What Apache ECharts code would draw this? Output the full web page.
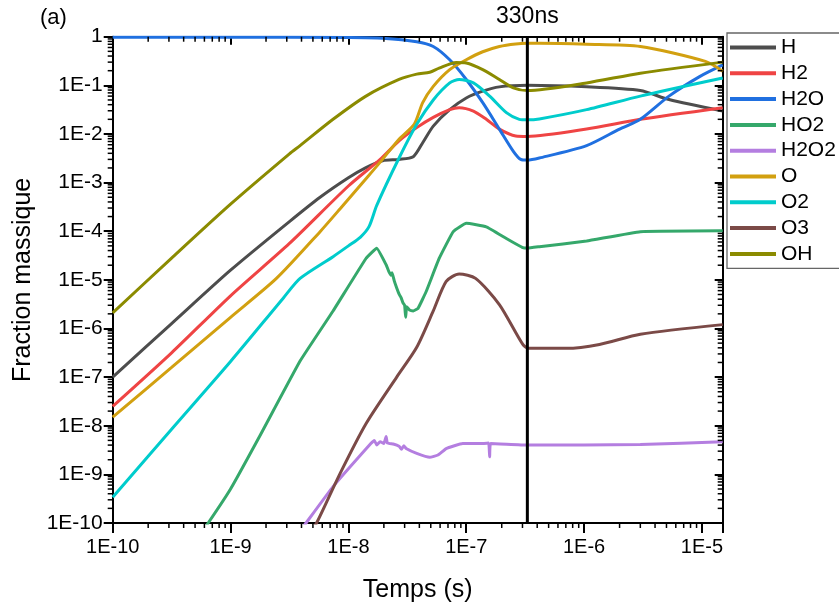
<!DOCTYPE html>
<html><head><meta charset="utf-8">
<script src="https://cdn.jsdelivr.net/npm/echarts@6/dist/echarts.min.js"></script>
<style>html,body{margin:0;padding:0;background:#fff}#c{width:839px;height:608px}</style>
</head><body><div id="c"></div>
<script>
const species = ['H','H2','H2O','HO2','H2O2','O','O2','O3','OH'];
const colors = ['#4d4d4d','#ef4444','#2070e0','#35a86b','#b47ee0','#d2a010','#00cccc','#7b4a47','#8b8b00'];
const xTickLabels = {'-10':'1E-10','-9':'1E-9','-8':'1E-8','-7':'1E-7','-6':'1E-6','-5':'1E-5'};
const yTickLabels = {'-10':'1E-10','-9':'1E-9','-8':'1E-8','-7':'1E-7','-6':'1E-6','-5':'1E-5','-4':'1E-4','-3':'1E-3','-2':'1E-2','-1':'1E-1','0':'1'};
const xMin = 1e-10, xMax = 1.5e-5, yMin = 1e-10, yMax = 1;
const markTime = 3.3e-7;
const markLabel = '330ns';

const H = [[1e-10,1e-7],[3.16e-10,1.26e-6],[1e-9,1.58e-5],[3.16e-9,1.58e-4],[5.75e-9,5.0e-4],[1e-8,1.26e-3],[1.41e-8,2.04e-3],[1.95e-8,2.82e-3],[2.69e-8,3.0e-3],[3.55e-8,3.4e-3],[4.27e-8,6.6e-3],[5.25e-8,1.45e-2],[7.24e-8,3.16e-2],[1e-7,5.5e-2],[1.38e-7,7.6e-2],[1.91e-7,9.3e-2],[3.3e-7,1.0e-1],[1.05e-6,9.3e-2],[3e-6,7.8e-2],[5.25e-6,5.1e-2],[1.5e-5,2.95e-2]];
const H2 = [[1e-10,2.5e-8],[3.16e-10,3.16e-7],[1e-9,4.7e-6],[3.16e-9,5.6e-5],[1e-8,8.5e-4],[1.86e-8,3.0e-3],[2.69e-8,7.2e-3],[3.8e-8,1.35e-2],[5.25e-8,2.19e-2],[7.24e-8,3.16e-2],[8.71e-8,3.47e-2],[1.15e-7,2.95e-2],[1.48e-7,2.0e-2],[1.91e-7,1.26e-2],[2.63e-7,9.1e-3],[3.3e-7,8.9e-3],[1.05e-6,1.26e-2],[3e-6,2.0e-2],[1.5e-5,3.47e-2]];
const H2O = [[1e-10,0.98],[1e-9,0.98],[1e-8,0.96],[1.95e-8,0.93],[3.8e-8,0.79],[5.25e-8,0.63],[7.24e-8,0.335],[1e-7,0.132],[1.38e-7,4.4e-2],[1.91e-7,1.26e-2],[2.51e-7,4.4e-3],[2.9e-7,3.0e-3],[3.3e-7,2.9e-3],[4.17e-7,3.2e-3],[1.05e-6,5.75e-3],[2e-6,1.26e-2],[3e-6,2.0e-2],[5.25e-6,6.0e-2],[9.55e-6,0.151],[1.5e-5,0.263]];
const HO2 = [[5.6e-10,6.3e-11],[6.46e-10,1e-10],[1e-9,5.0e-10],[1.78e-9,6.3e-9],[3.89e-9,2.14e-7],[7.41e-9,2.29e-6],[1.41e-8,2.75e-5],[1.74e-8,4.47e-5],[2.09e-8,2.04e-5],[2.2e-8,1.5e-5],[2.3e-8,1.25e-5],[2.35e-8,1.4e-5],[2.45e-8,9.5e-6],[2.57e-8,6.8e-6],[2.7e-8,5.0e-6],[2.8e-8,4.3e-6],[2.9e-8,3.4e-6],[3.0e-8,3.0e-6],[3.06e-8,1.7e-6],[3.12e-8,2.8e-6],[3.3e-8,2.4e-6],[3.55e-8,2.3e-6],[3.9e-8,2.6e-6],[4.57e-8,5.75e-6],[5.89e-8,2.75e-5],[7.76e-8,9.8e-5],[1e-7,1.45e-4],[1.48e-7,1.23e-4],[2.19e-7,7.1e-5],[3.02e-7,4.6e-5],[3.3e-7,4.5e-5],[4.17e-7,4.8e-5],[1.05e-6,6.3e-5],[3e-6,9.8e-5],[1.5e-5,1.02e-4]];
const H2O2 = [[3.8e-9,6.3e-11],[4.37e-9,1e-10],[7.41e-9,5.6e-10],[1.55e-8,4.3e-9],[1.66e-8,5.0e-9],[1.74e-8,4.0e-9],[1.86e-8,4.7e-9],[2.0e-8,4.3e-9],[2.09e-8,6.0e-9],[2.14e-8,4.4e-9],[2.4e-8,4.2e-9],[2.69e-8,3.8e-9],[2.82e-8,3.3e-9],[2.95e-8,3.9e-9],[3.09e-8,3.4e-9],[3.8e-8,2.7e-9],[4.9e-8,2.24e-9],[5.75e-8,2.5e-9],[6.76e-8,3.4e-9],[9.33e-8,4.3e-9],[1.38e-7,4.3e-9],[1.55e-7,4.4e-9],[1.58e-7,2.3e-9],[1.61e-7,4.3e-9],[3.3e-7,4.0e-9],[3e-6,4.1e-9],[1.5e-5,4.7e-9]];
const O = [[1e-10,1.5e-8],[3.16e-10,1.58e-7],[1e-9,1.7e-6],[2.45e-9,1.07e-5],[5.75e-9,9.8e-5],[8.51e-9,2.9e-4],[1.41e-8,1.2e-3],[1.9e-8,2.8e-3],[2.69e-8,7.8e-3],[3.63e-8,1.6e-2],[4.27e-8,4.4e-2],[5.25e-8,9.5e-2],[7.24e-8,0.21],[1e-7,0.335],[1.38e-7,0.49],[1.91e-7,0.63],[2.63e-7,0.71],[3.3e-7,0.73],[4.17e-7,0.73],[1.05e-6,0.70],[3e-6,0.63],[1.07e-5,0.31],[1.5e-5,0.195]];
const O2 = [[1e-10,3.4e-10],[3.16e-10,8.5e-9],[1e-9,2.1e-7],[2.82e-9,4.3e-6],[3.89e-9,1.07e-5],[7.41e-9,3.0e-5],[1e-8,5.0e-5],[1.26e-8,7.5e-5],[1.5e-8,1.26e-4],[1.74e-8,3.4e-4],[2.69e-8,3.2e-3],[3.8e-8,1.58e-2],[5.25e-8,5.0e-2],[7.24e-8,0.112],[8.71e-8,0.132],[1.15e-7,0.112],[1.58e-7,6.0e-2],[2.19e-7,2.75e-2],[2.82e-7,2.0e-2],[3.3e-7,1.95e-2],[4.17e-7,2.04e-2],[1.05e-6,3.16e-2],[3e-6,6.0e-2],[1.5e-5,0.141]];
const O3 = [[4.68e-9,6.3e-11],[5.37e-9,1e-10],[8.51e-9,1.05e-9],[1.41e-8,1.1e-8],[2.57e-8,1e-7],[3.8e-8,4.1e-7],[5.25e-8,2.29e-6],[6.76e-8,9.3e-6],[8.71e-8,1.32e-5],[1.2e-7,1.07e-5],[1.91e-7,3.1e-6],[3.02e-7,4.7e-7],[3.39e-7,3.9e-7],[7.08e-7,3.9e-7],[1.35e-6,4.7e-7],[3e-6,7.6e-7],[1.5e-5,1.2e-6]];
const OH = [[1e-10,2.1e-6],[3.16e-10,2.8e-5],[1e-9,3.6e-4],[3.16e-9,3.9e-3],[3.89e-9,5.75e-3],[7.41e-9,2.0e-2],[1.41e-8,6.0e-2],[2.69e-8,0.132],[3.8e-8,0.17],[4.9e-8,0.186],[5.89e-8,0.226],[8.22e-8,0.295],[1e-7,0.288],[1.38e-7,0.21],[1.91e-7,0.132],[2.51e-7,8.9e-2],[3.3e-7,7.8e-2],[1.05e-6,0.112],[3e-6,0.178],[1.5e-5,0.30]];
const seriesData = [H,H2,H2O,HO2,H2O2,O,O2,O3,OH];
const smoothness = [0.25,0.25,0.25,0.1,0.1,0.25,0.25,0.25,0.25];

const FONT = "Arial, 'Liberation Sans', sans-serif";
function fmt(map){ return function(v){ const e = Math.round(Math.log10(v)); if (Math.abs(v/Math.pow(10,e)-1) > 1e-6) return ''; return map[String(e)] || ''; }; }

const mant = [2,3,4,5,6,7,8,9];
const xMinor = [], yMinor = [];
for (let e=-10;e<=-5;e++) mant.forEach(m=>{const v=m*Math.pow(10,e); if(v<xMax) xMinor.push([v,yMin]);});
for (let e=-10;e<=-1;e++) mant.forEach(m=>{yMinor.push([xMin,m*Math.pow(10,e)]);});

const chart = echarts.init(document.getElementById('c'), null, {renderer:'canvas'});
const series = species.map((name,i)=>({
  name, type:'line', data: seriesData[i], showSymbol:false, symbol:'none', smooth:smoothness[i],
  lineStyle:{width:3, color:colors[i]}, itemStyle:{color:colors[i]}, clip:true, z: 3+i
}));
series.push({
  name:'marker', type:'line', data:[[markTime,yMin],[markTime,yMax]], showSymbol:false, symbol:'none',
  lineStyle:{color:'#000', width:3}, clip:true, z:15, silent:true
});
series.push({
  name:'markerLabel', type:'scatter', data:[[markTime,yMax]], symbolSize:0, clip:false, silent:true, z:16,
  itemStyle:{color:'#000', opacity:1},
  label:{show:true, position:'top', distance:9, formatter:markLabel, fontSize:23, color:'#000', opacity:1, fontFamily:FONT}
});
series.push({
  type:'custom', coordinateSystem:'cartesian2d', data:xMinor, silent:true, clip:false, z:20,
  renderItem:function(p, api){
    const v = api.value(0); const b = api.coord([v,yMin]); const t = api.coord([v,yMax]);
    return {type:'group', children:[
      {type:'line', shape:{x1:b[0],y1:b[1],x2:b[0],y2:b[1]+5}, style:{stroke:'#000', lineWidth:1.5}},
      {type:'line', shape:{x1:t[0],y1:t[1],x2:t[0],y2:t[1]+5}, style:{stroke:'#000', lineWidth:1.5}}
    ]};
  }
});
series.push({
  type:'custom', coordinateSystem:'cartesian2d', data:yMinor, silent:true, clip:false, z:20,
  renderItem:function(p, api){
    const v = api.value(1); const l = api.coord([xMin,v]); const r = api.coord([xMax,v]);
    return {type:'group', children:[
      {type:'line', shape:{x1:l[0],y1:l[1],x2:l[0]-5,y2:l[1]}, style:{stroke:'#000', lineWidth:1.5}},
      {type:'line', shape:{x1:r[0],y1:r[1],x2:r[0]-5,y2:r[1]}, style:{stroke:'#000', lineWidth:1.5}}
    ]};
  }
});

const axisLine = {show:true, onZero:false, lineStyle:{color:'#000', width:2}};
chart.setOption({
  animation:false,
  backgroundColor:'#fff',
  textStyle:{fontFamily:FONT},
  grid:{left:112.7, right:116.3, top:36.7, bottom:81.3, containLabel:false},
  legend:{
    data:species, orient:'vertical', left:727, top:33, padding:[4,14,4,3],
    itemGap:4.8, itemWidth:46, itemHeight:4, icon:'rect',
    textStyle:{fontSize:21, color:'#000', fontFamily:FONT},
    borderColor:'#666', borderWidth:1.3, backgroundColor:'#fff'
  },
  graphic:[{type:'text', left:40, top:7, style:{text:'(a)', fontSize:22, fill:'#000', fontFamily:FONT}}],
  xAxis:[
    {type:'log', logBase:10, min:xMin, max:xMax, interval:1, position:'bottom',
     axisLine, axisTick:{show:true, inside:false, length:10, lineStyle:{width:2,color:'#000'}},
     axisLabel:{formatter:fmt(xTickLabels), fontSize:20, color:'#000', margin:14, interval:0, fontFamily:FONT},
     splitLine:{show:false}, minorTick:{show:false},
     name:'Temps (s)', nameLocation:'middle', nameGap:55, nameTextStyle:{fontSize:25, color:'#000', fontFamily:FONT}},
    {type:'log', logBase:10, min:xMin, max:xMax, interval:1, position:'top',
     axisLine, axisTick:{show:true, inside:true, length:8, lineStyle:{width:2,color:'#000'}},
     axisLabel:{show:false}, splitLine:{show:false}}
  ],
  yAxis:[
    {type:'log', logBase:10, min:yMin, max:yMax, interval:1, position:'left',
     axisLine, axisTick:{show:true, inside:false, length:9, lineStyle:{width:2,color:'#000'}},
     axisLabel:{formatter:fmt(yTickLabels), fontSize:21, color:'#000', margin:10, interval:0, fontFamily:FONT},
     splitLine:{show:false},
     name:'Fraction massique', nameLocation:'middle', nameGap:73, nameRotate:90, nameTextStyle:{fontSize:25, color:'#000', fontFamily:FONT}},
    {type:'log', logBase:10, min:yMin, max:yMax, interval:1, position:'right',
     axisLine, axisTick:{show:true, inside:true, length:8, lineStyle:{width:2,color:'#000'}},
     axisLabel:{show:false}, splitLine:{show:false}}
  ],
  series
});
</script></body></html>
